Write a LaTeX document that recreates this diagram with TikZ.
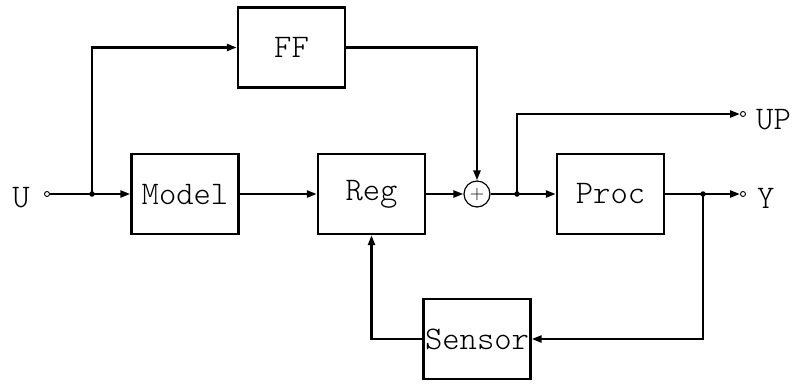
\documentclass[tikz,border=0pt]{standalone}
\usetikzlibrary{arrows.meta}
\begin{document}
\begin{tikzpicture}[x=1pt,y=-1pt,
  txt/.style={font=\fontsize{33}{33}\fontseries{l}\ttfamily\selectfont, inner sep=0pt},
  blk/.style={draw, line width=2.4pt, minimum width=107pt, minimum height=80pt, inner sep=0pt,
    font=\fontsize{33}{33}\fontseries{l}\ttfamily\selectfont},
  sumc/.style={draw, circle, line width=1.2pt, minimum size=26pt, inner sep=0pt},
  dot/.style={circle, fill, minimum size=5.5pt, inner sep=0pt},
  port/.style={circle, draw, line width=0.9pt, minimum size=5pt, inner sep=0pt},
  arr/.style={line width=2.4pt, -{Triangle[length=10pt,width=7pt]}},
]
\useasboundingbox (0,0) rectangle (792,384);
% blocks
\node[blk] (ff) at (291.5,47.5) {FF};
\node[blk] (model) at (185,194) {Model};
\node[blk] (reg) at (371.5,194) {Reg};
\node[blk] (proc) at (610.5,194) {Proc};
\node[blk] (sensor) at (477,339) {Sensor};
\node[sumc] (sum) at (477,194) {};
\node[font=\fontsize{20}{20}\selectfont, inner sep=0pt] (plus) at (477,194.5) {+};
% ports and junctions
\node[port] (in) at (47,194) {};
\node[dot] (j1) at (92,194) {};
\node[dot] (j2) at (517,194) {};
\node[dot] (j3) at (703,194) {};
\node[port] (yo) at (743,194) {};
\node[port] (upo) at (743,114) {};
% labels
\node[txt] (ul) at (21,198) {U};
\node[txt, anchor=west] (upl) at (756,120) {UP};
\node[txt, anchor=west] (yl) at (757,198) {Y};
% connectors
\draw[arr] (in) -- (model);
\draw[arr] (j1.center) |- (ff);
\draw[arr] (ff) -| (sum);
\draw[arr] (model) -- (reg);
\draw[arr] (reg) -- (sum);
\draw[arr] (sum) -- (proc);
\draw[arr] (j2.center) |- (upo);
\draw[arr] (proc) -- (yo);
\draw[arr] (j3.center) |- (sensor);
\draw[arr] (sensor) -| (reg);
\end{tikzpicture}
\end{document}
